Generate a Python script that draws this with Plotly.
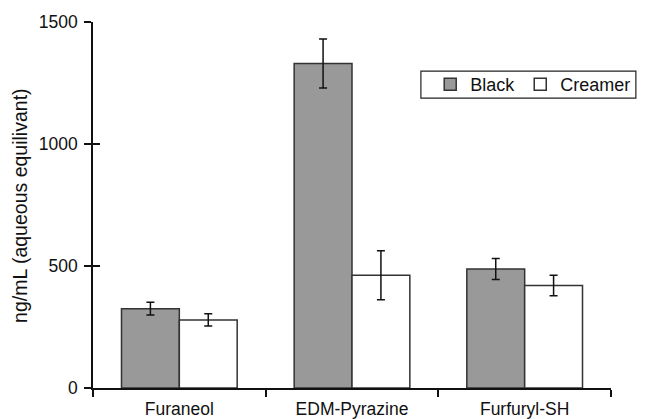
import plotly.graph_objects as go

categories = ["Furaneol", "EDM-Pyrazine", "Furfuryl-SH"]
black_values = [325, 1330, 488]
black_err = [26, 100, 43]
creamer_values = [279, 462, 420]
creamer_err = [25, 100, 42]
y_ticks = [0, 500, 1000, 1500]

FONT = "Liberation Sans, Arial, Helvetica, sans-serif"

# page body adds an 8px offset; the figure is sized/margined to compensate
W, H = 638, 411
ML, MT, MR, MB = 85, 14, 35, 31

fig = go.Figure()
fig.add_trace(go.Bar(
    name="Black", x=categories, y=black_values,
    marker=dict(color="#999999", line=dict(color="#333333", width=1.5)),
    error_y=dict(type="data", array=black_err, visible=True,
                 color="#111111", thickness=1.5, width=4),
))
fig.add_trace(go.Bar(
    name="Creamer", x=categories, y=creamer_values,
    marker=dict(color="#ffffff", line=dict(color="#333333", width=1.5)),
    error_y=dict(type="data", array=creamer_err, visible=True,
                 color="#111111", thickness=1.5, width=4),
))
# invisible trace to host inside ticks on the overlay axis
fig.add_trace(go.Scatter(x=[categories[0]], y=[0], yaxis="y2", mode="markers",
                         marker=dict(opacity=0), showlegend=False, hoverinfo="skip"))

fig.update_layout(
    template="none",
    width=W, height=H,
    margin=dict(l=ML, r=MR, t=MT, b=MB, autoexpand=False),
    paper_bgcolor="white", plot_bgcolor="white",
    font=dict(family=FONT, size=17, color="#111111"),
    barmode="group", bargap=0.33, bargroupgap=0,
    showlegend=True,
    legend=dict(
        orientation="h", x=0.651, y=0.829, xanchor="left", yanchor="middle",
        borderwidth=0, bgcolor="rgba(0,0,0,0)",
        font=dict(family=FONT, size=18), itemwidth=30,
        traceorder="normal",
    ),
    shapes=[dict(
        type="rect", xref="paper", yref="paper",
        x0=0.633, x1=1.048, y0=0.792, y1=0.866,
        line=dict(color="#222222", width=1.2), fillcolor="rgba(0,0,0,0)",
        layer="below",
    )],
    xaxis=dict(
        range=[-0.5, 2.5], showline=True, linecolor="#111111", linewidth=1.5,
        ticks="outside", ticklen=7, tickwidth=1.5, tickcolor="#111111",
        tickson="boundaries", showgrid=False, zeroline=False, automargin=False,
        ticklabelstandoff=4,
        tickfont=dict(family=FONT, size=17.5),
    ),
    yaxis=dict(
        range=[0, 1500], tickvals=y_ticks, showline=True, linecolor="#111111",
        linewidth=1.5, ticks="outside", ticklen=7, tickwidth=1.5,
        tickcolor="#111111", showgrid=False, zeroline=False, automargin=False,
        ticklabelstandoff=3,
        tickfont=dict(family=FONT, size=17.5),
    ),
    yaxis2=dict(
        range=[0, 1500], tickvals=y_ticks, overlaying="y", side="left",
        ticks="inside", ticklen=7, tickwidth=1.5, tickcolor="#111111",
        showticklabels=False, showgrid=False, zeroline=False, showline=False,
        automargin=False,
    ),
    annotations=[dict(
        text="ng/mL (aqueous equilivant)", xref="paper", yref="paper",
        x=-0.141, y=0.5, xanchor="center", yanchor="middle", textangle=-90,
        showarrow=False, font=dict(family=FONT, size=19.5),
    )],
)

fig.write_html("out.html")
